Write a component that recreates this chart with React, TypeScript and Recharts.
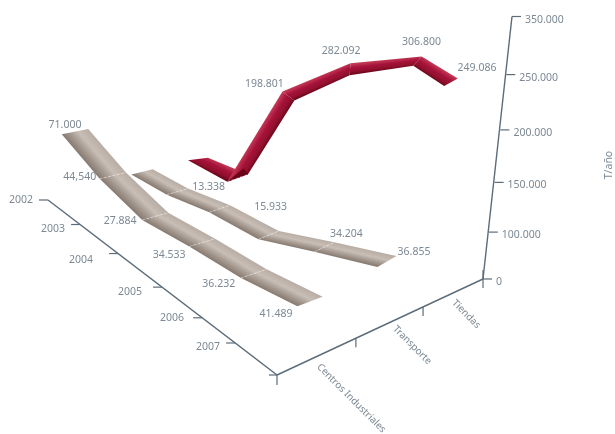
import React from "react";
import { ScatterChart, Scatter, XAxis, YAxis, ReferenceLine } from "recharts";

// ---- data ----
const years = ["2002", "2003", "2004", "2005", "2006", "2007"];
const categories = ["Centros Industriales", "Transporte", "Tiendas"];
const valueTicks = ["0", "100.000", "150.000", "200.000", "250.000", "350.000"];
const valueTitle = "T/año";

const centrosValues = [71000, 44540, 27884, 34533, 36232, 41489];
const transporteValues = [12000, 4000, 13338, 15933, 34204, 36855];
const tiendasValues = [9600, 21600, 198801, 282092, 306800, 249086];

const centrosLabels = ["71.000", "44,540", "27.884", "34.533", "36.232", "41.489"];
const transporteLabels = [null, null, "13.338", "15.933", "34.204", "36.855"];
const tiendasLabels = [null, null, "198.801", "282.092", "306.800", "249.086"];

// ---- scene: the picture's perspective, as functions of year index t and value in thousands ----
const W = 615;
const H = 434;
const sandStops = [
  [0, "#b8ada4"],
  [0.4, "#c8beb6"],
  [0.72, "#a3978e"],
  [1, "#857970"],
];
const scenes = [
  {
    x: (t: number) => 75 + 35.5 * t + 2.3 * t * t,
    floor: (t: number) => 177 + 26.5 * t + 1.7 * t * t,
    rise: (t: number) => 0.64 + 0.023 * t * t,
    vanish: [1527, -159],
    widths: [27, 27, 27, 27, 27, 27],
    stops: sandStops,
    nudge: [[-10, -8], [-33, 0], [-35, 4], [-33, 11], [-35, 9], [-34, 11]],
  },
  {
    x: (t: number) => 142 + 32 * t + 3.4 * t * t,
    floor: (t: number) => 180 + 8.33 * t + 6.67 * t * t - 0.667 * t * t * t,
    rise: (t: number) => 0.68 + 0.0008 * t * t * t * t,
    vanish: [860, -7],
    widths: [22, 22, 22, 22, 22, 22],
    stops: sandStops,
    nudge: [[0, 0], [0, 0], [-11, -23], [2, -29], [22, -14], [27, -11]],
  },
  {
    x: (t: number) => 198 + 34 * t + 5.6 * t * t - 57 * Math.pow(t / 5, 10),
    floor: (t: number) => 165 + 25 * t + 1.5 * t * t,
    rise: (t: number) => 0.625 + 0.000115 * Math.pow(t, 5),
    vanish: [345, 140],
    widths: [20, 22, 15, 12, 12.5, 15.6],
    stops: [
      [0, "#c23a55"],
      [0.4, "#a6123a"],
      [0.75, "#92102e"],
      [1, "#6e071d"],
    ],
    nudge: [[0, 0], [0, 0], [-24, -13], [-9, -19], [4, -20], [26, -15]],
  },
];

const project = (row: number, t: number, v: number) => {
  const s = scenes[row];
  return { x: s.x(t), y: s.floor(t) - (v / 1000) * s.rise(t) };
};

const buildRibbon = (row: number, values: number[], labels: (string | null)[]) => {
  const pts = values.map((v, t) => ({ ...project(row, t, v), t, row, label: labels[t] }));
  return pts.map((p, i) => ({
    ...p,
    prev: pts[i - 1] ?? null,
    next: pts[i + 1] ?? null,
  }));
};

const centrosRibbon = buildRibbon(0, centrosValues, centrosLabels);
const transporteRibbon = buildRibbon(1, transporteValues, transporteLabels);
const tiendasRibbon = buildRibbon(2, tiendasValues, tiendasLabels);

const edgeVector = (row: number, t: number, x: number, y: number) => {
  const s = scenes[row];
  const dx = s.vanish[0] - x;
  const dy = s.vanish[1] - y;
  const d = Math.hypot(dx, dy) || 1;
  return [(dx / d) * s.widths[t] * 0.5, (dy / d) * s.widths[t] * 0.5];
};

const AXIS = "#5c6c79";
const TEXT = "#7c8893";
const FONT = "'Noto Sans', sans-serif";
const FONT_SIZE = 10.5;

const RibbonSegment = (props: any) => {
  const { cx, cy, payload } = props;
  const { row, t, next, prev } = payload;
  if (!next) return <g />;
  const [ex, ey] = edgeVector(row, t, payload.x, payload.y);
  const stops = scenes[row].stops;
  const nx = cx + (next.x - payload.x);
  const ny = cy + (next.y - payload.y);
  const [fx, fy] = edgeVector(row, t + 1, next.x, next.y);
  const id = `ribbon-${row}-${t}`;
  const mx = (cx + nx) / 2;
  const my = (cy + ny) / 2;
  const gx = (ex + fx) / 2;
  const gy = (ey + fy) / 2;
  // shade across the band: the gradient runs along the segment's normal, upper edge first
  const segLen = Math.hypot(nx - cx, ny - cy) || 1;
  let nrmX = -(ny - cy) / segLen;
  let nrmY = (nx - cx) / segLen;
  if (nrmY > 0) {
    nrmX = -nrmX;
    nrmY = -nrmY;
  }
  const half = Math.abs(gx * nrmX + gy * nrmY) || 1;
  const isFold = prev && prev.y < payload.y && next.y < payload.y;
  const showJoint = t > 0 && (row !== 2 || isFold);
  return (
    <g>
      <defs>
        <linearGradient
          id={id}
          gradientUnits="userSpaceOnUse"
          x1={mx + nrmX * half}
          y1={my + nrmY * half}
          x2={mx - nrmX * half}
          y2={my - nrmY * half}
        >
          {stops.map(([o, c]) => (
            <stop key={String(o)} offset={o as number} stopColor={c as string} />
          ))}
        </linearGradient>
      </defs>
      <polygon
        points={`${cx - ex},${cy - ey} ${cx + ex},${cy + ey} ${nx + fx},${ny + fy} ${nx - fx},${ny - fy}`}
        fill={`url(#${id})`}
      />
      {isFold && row === 2 ? (
        <polygon
          points={`${cx - ex},${cy - ey} ${cx + ex},${cy + ey} ${cx + (nx - cx) * 0.12},${cy + (ny - cy) * 0.12}`}
          fill="#6b0416"
        />
      ) : null}
      {showJoint ? (
        <line
          x1={cx - ex}
          y1={cy - ey}
          x2={cx + ex}
          y2={cy + ey}
          stroke="#ffffff"
          strokeOpacity={0.55}
          strokeWidth={0.7}
          strokeDasharray="2.5 2"
        />
      ) : null}
    </g>
  );
};

const ValueLabel = (props: any) => {
  const { cx, cy, payload } = props;
  if (!payload.label) return <g />;
  const [dx, dy] = scenes[payload.row].nudge[payload.t];
  return (
    <text x={cx + dx} y={cy + dy} textAnchor="middle" dominantBaseline="central" fontFamily={FONT} fontSize={FONT_SIZE} fill={TEXT}>
      {payload.label}
    </text>
  );
};

// ---- axes: positions along each drawn axis ----
const yearAxisFrom = { x: 48, y: 200 };
const yearAxisTo = { x: 277, y: 375 };
const yearTickAlong = [0, 0.14, 0.306, 0.498, 0.673, 0.817];
const yearLabelNudge = [[-15, -1], [-15, 3], [-25, 5], [-20, 4], [-18, -1], [-15, 3]];
const catAxisFrom = { x: 277, y: 375 };
const catAxisTo = { x: 483, y: 279 };
const catTickAlong = [0, 0.383, 0.709];
const catLabelAt = [[319, 365], [395, 327], [454, 301]];

const yearAxisData = years.map((label, i) => ({
  label,
  i,
  x: yearAxisFrom.x + (yearAxisTo.x - yearAxisFrom.x) * yearTickAlong[i],
  y: yearAxisFrom.y + (yearAxisTo.y - yearAxisFrom.y) * yearTickAlong[i],
}));
const catAxisData = categories.map((label, i) => ({
  label,
  i,
  x: catAxisFrom.x + (catAxisTo.x - catAxisFrom.x) * catTickAlong[i],
  y: catAxisFrom.y + (catAxisTo.y - catAxisFrom.y) * catTickAlong[i],
}));
const valueAxisData = valueTicks.map((label, i) => ({
  label,
  i,
  x: 483 + 5.8 * i,
  y: 279 - 45.5 * i - 1.4 * i * i,
}));

const YearTick = (props: any) => {
  const { cx, cy, payload } = props;
  const [dx, dy] = yearLabelNudge[payload.i];
  return (
    <g>
      <line x1={cx - 9} y1={cy} x2={cx} y2={cy} stroke={AXIS} strokeWidth={1.2} />
      <text x={cx + dx} y={cy + dy} textAnchor="end" dominantBaseline="central" fontFamily={FONT} fontSize={FONT_SIZE} fill={TEXT}>
        {payload.label}
      </text>
    </g>
  );
};

const CatTick = (props: any) => {
  const { cx, cy, payload } = props;
  const [lx, ly] = catLabelAt[payload.i];
  return (
    <g>
      {payload.i > 0 ? <line x1={cx} y1={cy} x2={cx} y2={cy + 9} stroke={AXIS} strokeWidth={1.2} /> : null}
      <text x={lx} y={ly} transform={`rotate(45 ${lx} ${ly})`} textAnchor="start" dominantBaseline="central" fontFamily={FONT} fontSize={9.8} fill={TEXT}>
        {payload.label}
      </text>
    </g>
  );
};

const ValueTick = (props: any) => {
  const { cx, cy, payload } = props;
  return (
    <g>
      <line x1={cx} y1={cy} x2={cx + 9} y2={cy} stroke={AXIS} strokeWidth={1.2} />
      <text x={cx + 13} y={cy + 2} textAnchor="start" dominantBaseline="central" fontFamily={FONT} fontSize={FONT_SIZE} fill={TEXT}>
        {payload.label}
      </text>
    </g>
  );
};

const TitleMark = (props: any) => {
  const { cx, cy, payload } = props;
  return (
    <text x={cx} y={cy} transform={`rotate(-90 ${cx} ${cy})`} textAnchor="middle" dominantBaseline="central" fontFamily={FONT} fontSize={FONT_SIZE} fill={TEXT}>
      {payload.label}
    </text>
  );
};

const axisLine = { stroke: AXIS, strokeWidth: 1.4 };

export default function App() {
  return (
    <div style={{ position: "fixed", left: 0, top: 0, width: W, height: H, opacity: 0.999 }}>
      <ScatterChart width={W} height={H} margin={{ top: 0, right: 0, bottom: 0, left: 0 }}>
        <XAxis type="number" dataKey="x" domain={[0, W]} hide />
        <YAxis type="number" dataKey="y" domain={[0, H]} reversed hide />

        <ReferenceLine segment={[yearAxisFrom, yearAxisTo]} {...axisLine} ifOverflow="visible" />
        <ReferenceLine segment={[catAxisFrom, catAxisTo]} {...axisLine} ifOverflow="visible" />
        <ReferenceLine segment={[valueAxisData[0], valueAxisData[5]]} {...axisLine} ifOverflow="visible" />
        <ReferenceLine segment={[{ x: 269, y: 375 }, { x: 277, y: 375 }]} stroke={AXIS} strokeWidth={1.2} ifOverflow="visible" />
        <ReferenceLine segment={[{ x: 277, y: 375 }, { x: 277, y: 385 }]} stroke={AXIS} strokeWidth={1.2} ifOverflow="visible" />
        <ReferenceLine segment={[{ x: 483, y: 270 }, { x: 483, y: 288 }]} stroke={AXIS} strokeWidth={1.2} ifOverflow="visible" />

        <Scatter data={yearAxisData} shape={<YearTick />} isAnimationActive={false} />
        <Scatter data={catAxisData} shape={<CatTick />} isAnimationActive={false} />
        <Scatter data={valueAxisData} shape={<ValueTick />} isAnimationActive={false} />
        <Scatter data={[{ x: 608, y: 165, label: valueTitle }]} shape={<TitleMark />} isAnimationActive={false} />

        <Scatter data={tiendasRibbon} shape={<RibbonSegment />} isAnimationActive={false} />
        <Scatter data={transporteRibbon} shape={<RibbonSegment />} isAnimationActive={false} />
        <Scatter data={centrosRibbon} shape={<RibbonSegment />} isAnimationActive={false} />

        <Scatter data={tiendasRibbon} shape={<ValueLabel />} isAnimationActive={false} />
        <Scatter data={transporteRibbon} shape={<ValueLabel />} isAnimationActive={false} />
        <Scatter data={centrosRibbon} shape={<ValueLabel />} isAnimationActive={false} />
      </ScatterChart>
    </div>
  );
}
